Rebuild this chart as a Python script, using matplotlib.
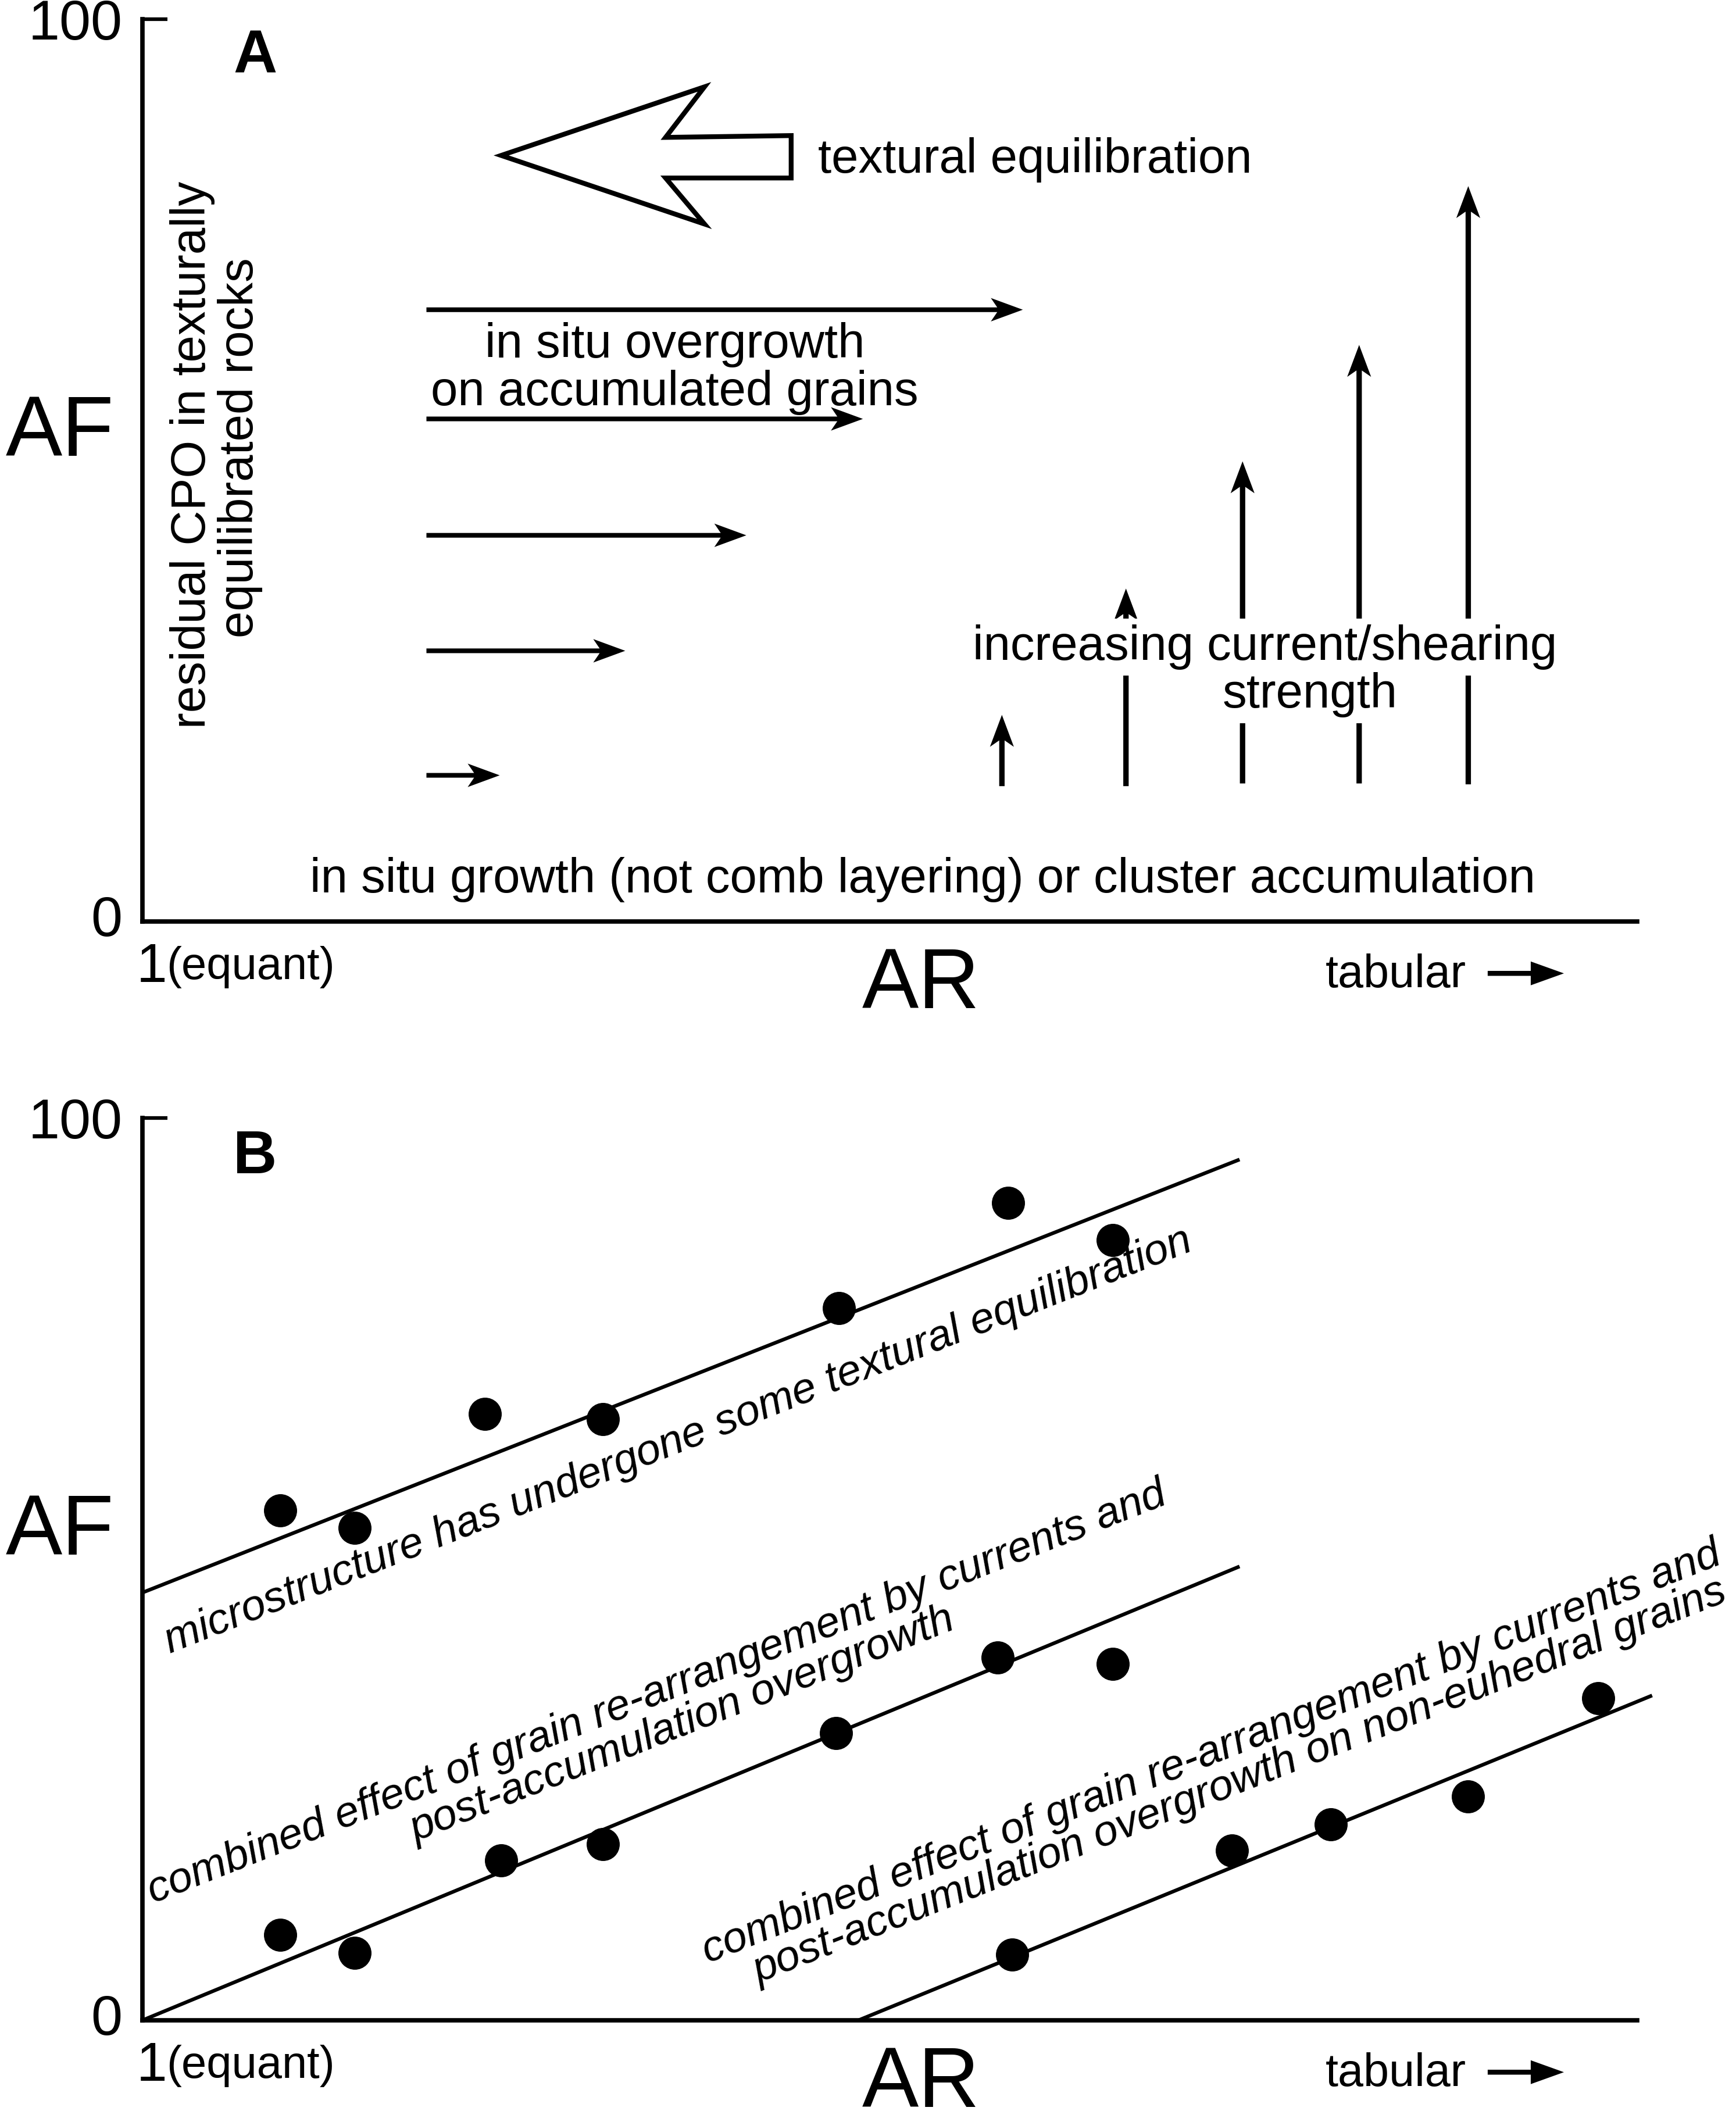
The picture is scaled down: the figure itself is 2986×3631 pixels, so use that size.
import numpy as np
import matplotlib.pyplot as plt
from matplotlib.patches import Polygon

plt.rcParams['font.family'] = ['Liberation Sans', 'DejaVu Sans']

# ---- panel A ----
# horizontal arrows: in situ overgrowth (AR from -> to, at AF)
h_start = [1.90, 1.90, 1.90, 1.90, 1.90]
h_end = [5.89, 4.82, 4.04, 3.23, 2.39]
h_af = [67.8, 55.7, 42.8, 30.0, 16.2]

# vertical arrows: increasing current/shearing strength
v_ar = [5.75, 6.58, 7.36, 8.14, 8.87]
v_base = [15.0, 15.0, 15.3, 15.3, 15.2]
v_top = [22.9, 36.9, 51.0, 63.9, 81.5]

# outline arrow: textural equilibration
big_ar = [2.40, 3.76, 3.50, 4.34, 4.34, 3.50, 3.76]
big_af = [84.9, 92.5, 86.9, 87.1, 82.4, 82.4, 77.3]

# ---- panel B ----
grp1_ar = [0.92, 1.42, 2.29, 3.08, 4.66, 5.79, 6.49]
grp1_af = [56.5, 54.6, 67.2, 66.6, 78.9, 90.6, 86.5]
grp2_ar = [0.92, 1.42, 2.40, 3.08, 4.64, 5.72, 6.49]
grp2_af = [9.5, 7.5, 17.7, 19.5, 31.8, 40.2, 39.5]
grp3_ar = [5.82, 7.29, 7.95, 8.87, 9.74]
grp3_af = [7.3, 18.8, 21.7, 24.8, 35.7]

trend_ar = [[0.0, 7.34], [0.0, 7.34], [4.79, 10.10]]
trend_af = [[47.4, 95.4], [0.0, 50.3], [0.0, 36.0]]

yticks = [0, 100]
ytick_labels = ['0', '100']

W, H = 2986, 3631
fig = plt.figure(figsize=(W / 100, H / 100), dpi=100)


def frame(ax):
    ax.set_xlim(0, 10)
    ax.set_ylim(0, 100)
    for s in ['top', 'right']:
        ax.spines[s].set_visible(False)
    for s in ['left', 'bottom']:
        ax.spines[s].set_linewidth(5.5)
        ax.spines[s].set_capstyle('projecting')
    ax.set_xticks([])
    ax.set_yticks(yticks)
    ax.set_yticklabels(ytick_labels)
    ax.tick_params(axis='y', direction='in', length=31, width=4.5, pad=25, labelsize=70)
    # the "0" sits a little above the x axis in the original
    ax.get_yticklabels()[0].set_va('center')
    # axis labels
    ax.text(-0.914, 51.6, 'AF', fontsize=105, ha='left', va='baseline', clip_on=False)
    ax.text(5.21, -9.6, 'AR', fontsize=105, ha='center', va='baseline', clip_on=False)
    ax.text(-0.04, -6.7, '1', fontsize=68, ha='left', va='baseline', clip_on=False)
    ax.text(0.16, -6.4, '(equant)', fontsize=56, ha='left', va='baseline', clip_on=False)
    ax.text(7.915, -7.3, 'tabular', fontsize=57, ha='left', va='baseline', clip_on=False)
    ax.arrow(9.00, -5.75, 0.51, 0, width=0.55, head_width=2.64, head_length=0.222,
             length_includes_head=True, fc='k', ec='none', clip_on=False)


axA = fig.add_axes([245 / W, 1 - 1585 / H, (2816 - 245) / W, (1585 - 33) / H])
frame(axA)
axA.text(0.755, 95.8, 'A', fontsize=75, fontweight='bold', ha='center', va='center')

# outline arrow
axA.add_patch(Polygon(np.column_stack([big_ar, big_af]), closed=True, fill=False,
                      lw=6, ec='k', joinstyle='miter'))
axA.text(4.52, 83.0, 'textural equilibration', fontsize=60, ha='left', va='baseline')

for x0, x1, y in zip(h_start, h_end, h_af):
    axA.arrow(x0, y, x1 - x0, 0, width=0.52, head_width=2.6, head_length=0.214,
              length_includes_head=True, overhang=0.2, fc='k', ec='none')
axA.text(3.56, 62.5, 'in situ overgrowth', fontsize=60, ha='center', va='baseline')
axA.text(3.56, 57.2, 'on accumulated grains', fontsize=60, ha='center', va='baseline')

for x, y0, y1 in zip(v_ar, v_base, v_top):
    axA.arrow(x, y0, 0, y1 - y0, width=0.036, head_width=0.16, head_length=3.54,
              length_includes_head=True, overhang=0.2, fc='k', ec='none')
box = dict(boxstyle='square,pad=0.12', fc='white', ec='none')
axA.text(7.51, 29.0, 'increasing current/shearing', fontsize=60, ha='center',
         va='baseline', bbox=box, zorder=5)
axA.text(7.81, 23.7, 'strength', fontsize=60, ha='center', va='baseline', bbox=box, zorder=5)

axA.text(5.22, 3.2, 'in situ growth (not comb layering) or cluster accumulation',
         fontsize=60, ha='center', va='baseline')
axA.text(0.42, 51.7, 'residual CPO in texturally', fontsize=60, rotation=90,
         ha='center', va='baseline', rotation_mode='anchor')
axA.text(0.739, 52.5, 'equilibrated rocks', fontsize=60, rotation=90,
         ha='center', va='baseline', rotation_mode='anchor')

# ---- panel B ----
axB = fig.add_axes([245 / W, 1 - 3475 / H, (2816 - 245) / W, (3475 - 1923) / H])
frame(axB)
axB.text(0.755, 95.6, 'B', fontsize=75, fontweight='bold', ha='center', va='center')

for xs, ys in zip(trend_ar, trend_af):
    axB.plot(xs, ys, color='k', lw=4.5, solid_capstyle='butt', clip_on=False)
for xs, ys in [(grp1_ar, grp1_af), (grp2_ar, grp2_af), (grp3_ar, grp3_af)]:
    axB.plot(xs, ys, 'o', color='k', markersize=40, clip_on=False, zorder=3)

rot = 21.5
it = dict(fontsize=54, style='italic', rotation=rot, ha='center', va='baseline',
          rotation_mode='anchor')
axB.text(3.61, 63.0, 'microstructure has undergone some textural equilibration', **it)
axB.text(3.47, 35.1, 'combined effect of grain re-arrangement by currents and', **it)
axB.text(3.64, 31.6, 'post-accumulation overgrowth', **it)
axB.text(7.18, 28.5, 'combined effect of grain re-arrangement by currents and', **it)
axB.text(7.37, 25.3, 'post-accumulation overgrowth on non-euhedral grains', **it)

fig.savefig('out.png', dpi=100)
